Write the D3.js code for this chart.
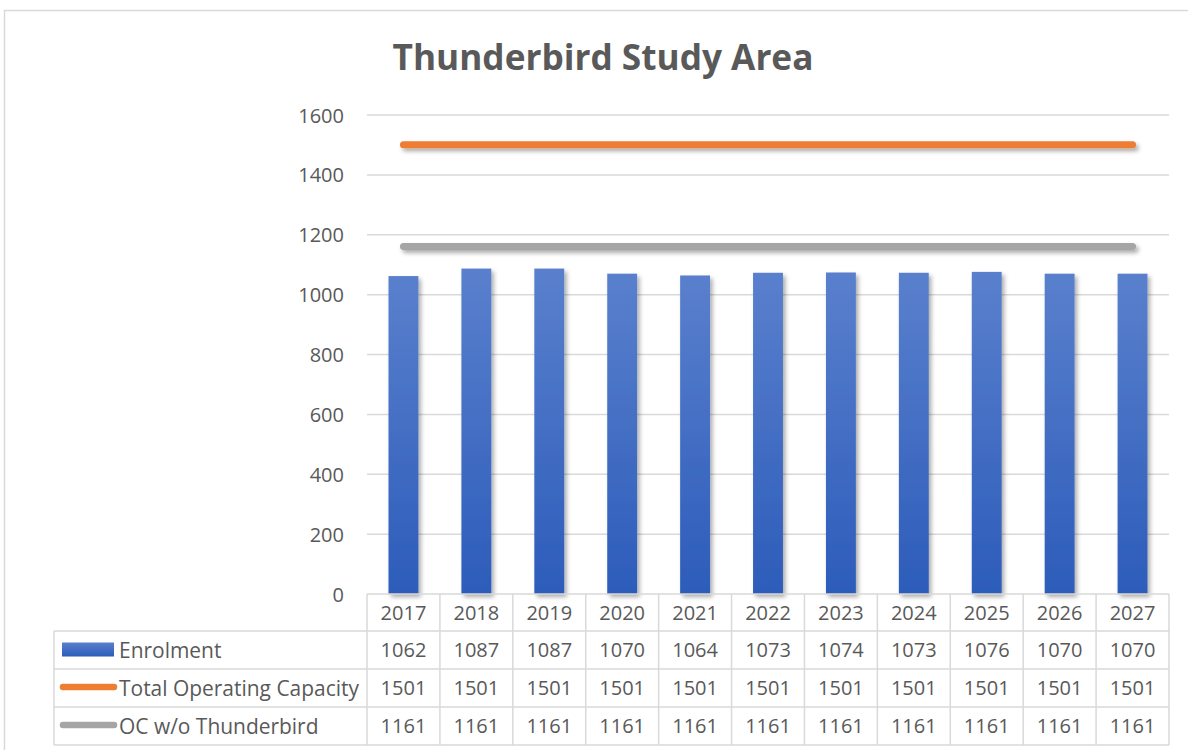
<!DOCTYPE html>
<html>
<head>
<meta charset="utf-8">
<script src="https://cdn.jsdelivr.net/npm/d3@7/dist/d3.min.js"></script>
<style>
  html, body { margin: 0; padding: 0; background: #fff; }
  svg { display: block; }
  text { font-family: "Open Sans", "Noto Sans", "Liberation Sans", sans-serif; fill: #595959; }
</style>
</head>
<body>
<svg id="chart" width="1188" height="750"></svg>
<script>
// Enrolment and capacity projections by school year
const years = ["2017", "2018", "2019", "2020", "2021", "2022", "2023", "2024", "2025", "2026", "2027"];
const enrolment = [1062, 1087, 1087, 1070, 1064, 1073, 1074, 1073, 1076, 1070, 1070];
const totalCapacity = [1501, 1501, 1501, 1501, 1501, 1501, 1501, 1501, 1501, 1501, 1501];
const capacityWithout = [1161, 1161, 1161, 1161, 1161, 1161, 1161, 1161, 1161, 1161, 1161];
const yTicks = [0, 200, 400, 600, 800, 1000, 1200, 1400, 1600];
const seriesNames = ["Enrolment", "Total Operating Capacity", "OC w/o Thunderbird"];
const title = "Thunderbird Study Area";

const svg = d3.select("#chart");
const W = 1188, H = 750;
const plot = { left: 367, right: 1169, top: 115, bottom: 594 };
const grid = "#D9D9D9";
const orange = "#ED7D31", grey = "#A5A5A5";

const defs = svg.append("defs");
const grad = defs.append("linearGradient").attr("id", "barFill")
  .attr("x1", 0).attr("y1", 0).attr("x2", 0).attr("y2", 1);
grad.append("stop").attr("offset", "0%").attr("stop-color", "#5A80CD");
grad.append("stop").attr("offset", "100%").attr("stop-color", "#2C5CBA");

// soft drop shadow; user-space region so flat horizontal lines still render
const shadow = defs.append("filter").attr("id", "shadow")
  .attr("filterUnits", "userSpaceOnUse")
  .attr("x", 0).attr("y", 0).attr("width", W).attr("height", H);
shadow.append("feDropShadow").attr("dx", 2.5).attr("dy", 3).attr("stdDeviation", 2.2)
  .attr("flood-color", "#000").attr("flood-opacity", 0.33);

// chart frame
svg.append("rect").attr("x", 4.5).attr("y", 10.5).attr("width", W + 10).attr("height", H + 10)
  .attr("fill", "none").attr("stroke", grid).attr("stroke-width", 1.5);

// title
const titleText = svg.append("text").attr("x", 603).attr("y", 70)
  .attr("text-anchor", "middle").attr("font-weight", "bold").attr("font-size", 36)
  .style("fill", "#595959").text(title);
const tw = titleText.node().getComputedTextLength();
titleText.attr("font-size", 36 * 421 / tw);

const x = d3.scaleBand().domain(years).range([plot.left, plot.right]).paddingInner(0.59).paddingOuter(0.295);
const xCol = d3.scaleBand().domain(years).range([plot.left, plot.right]);
const y = d3.scaleLinear().domain([0, 1600]).range([plot.bottom, plot.top]);

// gridlines
svg.append("g").selectAll("line").data(yTicks.filter(d => d > 0)).join("line")
  .attr("x1", plot.left).attr("x2", plot.right)
  .attr("y1", d => y(d)).attr("y2", d => y(d))
  .attr("stroke", grid).attr("stroke-width", 1.5);

// y-axis labels
const yAxis = d3.axisLeft(y).tickValues(yTicks).tickSize(0).tickPadding(0).tickFormat(d3.format("d"));
const yg = svg.append("g").attr("transform", `translate(344,0)`).call(yAxis);
yg.select(".domain").remove();
yg.selectAll("text").attr("font-size", 20).style("fill", "#595959")
  .attr("font-family", "\"Open Sans\", sans-serif").attr("dy", "0.35em");

// bars
svg.append("g").attr("filter", "url(#shadow)").selectAll("rect").data(years).join("rect")
  .attr("x", d => x(d)).attr("width", x.bandwidth())
  .attr("y", (d, i) => y(enrolment[i]))
  .attr("height", (d, i) => y(0) - y(enrolment[i]))
  .attr("fill", "url(#barFill)");

// capacity lines
const line = d3.line().x((d, i) => xCol(years[i]) + xCol.bandwidth() / 2).y(d => y(d));
[[totalCapacity, orange], [capacityWithout, grey]].forEach(([vals, col]) => {
  svg.append("path").datum(vals).attr("d", line)
    .attr("fill", "none").attr("stroke", col).attr("stroke-width", 7)
    .attr("stroke-linecap", "round").attr("filter", "url(#shadow)");
});

// data table
const tbl = { left: 54, header: 594, rows: [631, 669, 707, 745] };
const tg = svg.append("g");
tg.append("line").attr("x1", plot.left).attr("x2", plot.right).attr("y1", tbl.header).attr("y2", tbl.header)
  .attr("stroke", grid).attr("stroke-width", 1.5);
tbl.rows.forEach(ry => {
  tg.append("line").attr("x1", tbl.left).attr("x2", plot.right).attr("y1", ry).attr("y2", ry)
    .attr("stroke", grid).attr("stroke-width", 1.5);
});
tg.append("line").attr("x1", tbl.left).attr("x2", tbl.left).attr("y1", tbl.rows[0]).attr("y2", tbl.rows[3])
  .attr("stroke", grid).attr("stroke-width", 1.5);
const colEdges = years.map(d => xCol(d)).concat([plot.right]);
tg.selectAll("line.col").data(colEdges).join("line").attr("class", "col")
  .attr("x1", d => d).attr("x2", d => d).attr("y1", tbl.header).attr("y2", tbl.rows[3])
  .attr("stroke", grid).attr("stroke-width", 1.5);

const fs = 20;
const cx = d => xCol(d) + xCol.bandwidth() / 2;
// header years
tg.selectAll("text.yr").data(years).join("text").attr("class", "yr")
  .attr("x", cx).attr("y", (tbl.header + tbl.rows[0]) / 2).attr("dy", "0.36em")
  .attr("text-anchor", "middle").attr("font-size", fs).text(d => d);

const rowData = [enrolment, totalCapacity, capacityWithout];
rowData.forEach((vals, r) => {
  const my = (tbl.rows[r] + tbl.rows[r + 1]) / 2;
  tg.append("g").selectAll("text").data(vals).join("text")
    .attr("x", (d, i) => cx(years[i])).attr("y", my).attr("dy", "0.36em")
    .attr("text-anchor", "middle").attr("font-size", fs).text(d => d);
  // legend key
  if (r === 0) {
    tg.append("rect").attr("x", 62).attr("y", my - 7.5).attr("width", 52).attr("height", 14)
      .attr("fill", "url(#barFill)");
  } else {
    tg.append("line").attr("x1", 63).attr("x2", 114).attr("y1", my - 1).attr("y2", my - 1)
      .attr("stroke", r === 1 ? orange : grey).attr("stroke-width", 6.5).attr("stroke-linecap", "round");
  }
  tg.append("text").attr("class", "series").attr("x", 119).attr("y", my).attr("dy", "0.36em")
    .attr("font-size", fs).text(seriesNames[r]);
});
// size the legend labels so the longest one fills its cell
const labels = tg.selectAll("text.series");
const lw = d3.max(labels.nodes(), n => n.getComputedTextLength());
labels.attr("font-size", fs * 240 / lw);
</script>
</body>
</html>
